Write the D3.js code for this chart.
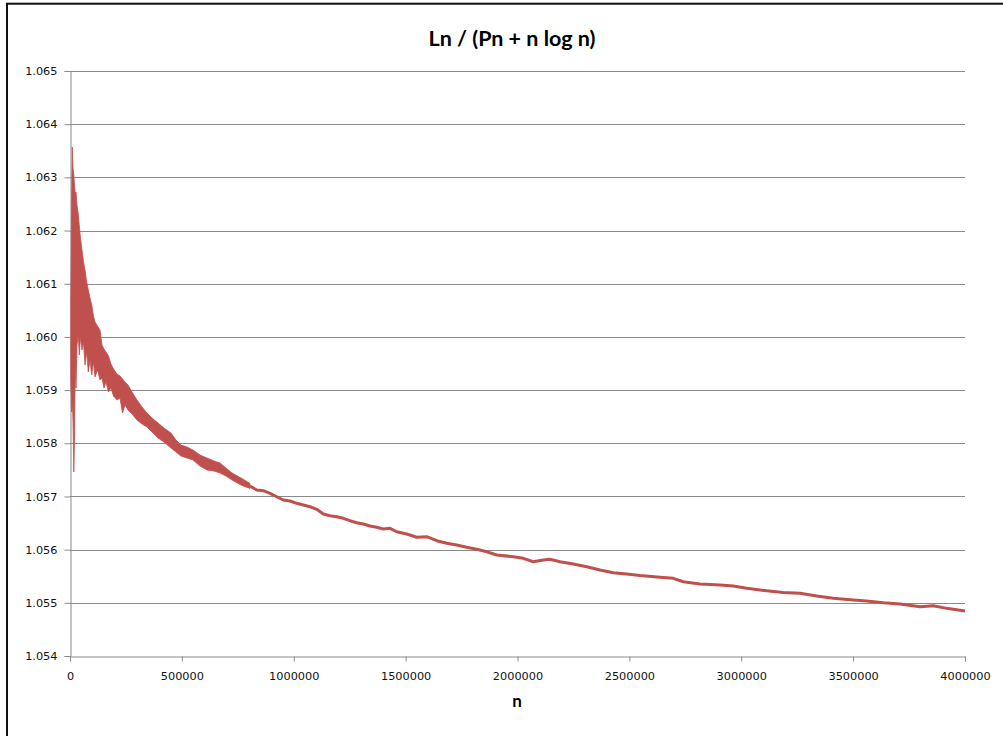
<!DOCTYPE html>
<html>
<head>
<meta charset="utf-8">
<script src="https://cdn.jsdelivr.net/npm/d3@7"></script>
<style>
  body { margin: 0; background: #fff; }
  svg { display: block; }
</style>
</head>
<body>
<div id="chart"></div>
<script>
// Noisy start of the curve: n with upper / lower envelope
const headN = [3600, 7200, 10300, 13400, 17000, 20100, 23700, 26800, 31300, 37100,
  41600, 46900, 53600, 60300, 67000, 74600, 81800, 89400, 97000, 105000,
  111700, 122900, 134100, 143000, 152000, 160900, 172100, 183200, 194400, 210100,
  223500, 234600, 245800, 259200, 277100, 299400, 321800, 344100, 366500, 393300,
  420100, 451400, 473700, 496100, 522900, 549700, 581000, 612300, 643600, 670400,
  697200, 724000, 764200, 804500];
const headHi = [1.060694, 1.062574, 1.063571, 1.063176, 1.063044, 1.062856, 1.062668, 1.062725, 1.06248, 1.062311,
  1.062085, 1.06186, 1.061634, 1.061408, 1.061258, 1.061032, 1.060882, 1.060731, 1.0606, 1.060393,
  1.06028, 1.060205, 1.06013, 1.059848, 1.059772, 1.059716, 1.059641, 1.05949, 1.059396, 1.059302,
  1.059265, 1.059208, 1.059152, 1.059096, 1.058964, 1.058813, 1.058682, 1.058569, 1.058475, 1.058381,
  1.058287, 1.058193, 1.058061, 1.057967, 1.05793, 1.057873, 1.057779, 1.057723, 1.057666, 1.057629,
  1.057535, 1.057441, 1.057347, 1.057245];
const headLo = [1.05919, 1.058588, 1.058813, 1.058437, 1.05746, 1.058061, 1.059566, 1.059039, 1.059848, 1.060036,
  1.05966, 1.059998, 1.059754, 1.059904, 1.059472, 1.059716, 1.05934, 1.059566, 1.059284, 1.059528,
  1.059246, 1.059378, 1.05919, 1.059227, 1.059039, 1.059152, 1.058964, 1.059039, 1.058889, 1.058813,
  1.058851, 1.058569, 1.058719, 1.058625, 1.05855, 1.058437, 1.058362, 1.058306, 1.058212, 1.058099,
  1.058024, 1.057911, 1.057836, 1.05776, 1.057723, 1.057685, 1.057572, 1.057497, 1.057478, 1.057441,
  1.057384, 1.057309, 1.057215, 1.057150];

// Smoother tail of the curve
const tailN = [804500, 834400, 863900, 893900, 923800, 953300, 983200, 1013200, 1042700, 1072600,
  1102600, 1132100, 1162000, 1191900, 1221500, 1251400, 1281300, 1310900, 1340800, 1370700,
  1400200, 1430200, 1460100, 1504800, 1549500, 1594200, 1638900, 1683600, 1728300, 1772900,
  1817600, 1862300, 1907000, 1981200, 2025900, 2070600, 2115300, 2145300, 2189900, 2249400,
  2309300, 2368700, 2428200, 2488000, 2547500, 2636900, 2696300, 2741000, 2815600, 2905000,
  2964500, 3024300, 3083800, 3186600, 3262600, 3337200, 3411400, 3500800, 3560700, 3634900,
  3709500, 3798900, 3858300, 3918200, 4000000];
const tailV = [1.057196, 1.057121, 1.057108, 1.057059, 1.056995, 1.056933, 1.056914, 1.056871, 1.056839, 1.056807,
  1.056758, 1.05667, 1.056638, 1.056619, 1.056589, 1.056544, 1.056506, 1.056482, 1.056444, 1.05642,
  1.056388, 1.056401, 1.056337, 1.056294, 1.056232, 1.056243, 1.056168, 1.056119, 1.056087, 1.056044,
  1.056006, 1.055961, 1.055899, 1.055867, 1.055837, 1.055773, 1.055805, 1.055818, 1.055773, 1.05573,
  1.055679, 1.055617, 1.055566, 1.055542, 1.055513, 1.055479, 1.055461, 1.055397, 1.055354, 1.055335,
  1.055316, 1.055273, 1.055241, 1.055194, 1.055179, 1.055128, 1.055085, 1.055053, 1.055034, 1.055002,
  1.054977, 1.054927, 1.054946, 1.054896, 1.054846];

const yTicks = [1.054, 1.055, 1.056, 1.057, 1.058, 1.059, 1.060, 1.061, 1.062, 1.063, 1.064, 1.065];
const xTicks = [0, 500000, 1000000, 1500000, 2000000, 2500000, 3000000, 3500000, 4000000];

const title = "Ln / (Pn + n log n)";
const xTitle = "n";

const width = 1003, height = 736;
const margin = { top: 71, right: 38, bottom: 80, left: 70 };
const lineColor = "#C0504D";
const gridColor = "#8a8a8a";

const svg = d3.select("#chart").append("svg")
  .attr("width", width)
  .attr("height", height);

// outer chart frame (runs off the right and bottom of the window)
svg.append("rect")
  .attr("x", 7).attr("y", 3.7)
  .attr("width", 1010).attr("height", 750)
  .attr("fill", "none")
  .attr("stroke", "#111")
  .attr("stroke-width", 2);

const x = d3.scaleLinear()
  .domain([0, 4000000])
  .range([margin.left, width - margin.right]);

const y = d3.scaleLinear()
  .domain([1.054, 1.065])
  .range([height - margin.bottom, margin.top]);

// horizontal gridlines
svg.append("g")
  .selectAll("line")
  .data(yTicks.slice(1))
  .join("line")
  .attr("x1", margin.left).attr("x2", width - margin.right)
  .attr("y1", d => Math.round(y(d)) + 0.5)
  .attr("y2", d => Math.round(y(d)) + 0.5)
  .attr("stroke", gridColor)
  .attr("stroke-width", 1);

// y axis
const yAxis = svg.append("g")
  .attr("transform", `translate(${margin.left + 0.5},0)`)
  .call(d3.axisLeft(y).tickValues(yTicks).tickFormat(d3.format(".3f")).tickSize(6).tickPadding(7));

// x axis
const xAxis = svg.append("g")
  .attr("transform", `translate(0,${Math.round(y(1.054)) + 0.5})`)
  .call(d3.axisBottom(x).tickValues(xTicks).tickFormat(d3.format("d")).tickSize(5).tickPadding(10));

[yAxis, xAxis].forEach(g => {
  g.select(".domain").attr("stroke", gridColor);
  g.selectAll(".tick line").attr("stroke", gridColor);
  g.selectAll(".tick text")
    .attr("fill", "#111")
    .style("font-family", "DejaVu Sans")
    .style("font-size", "11.3px");
});

// noisy head as a band
const headData = headN.map((n, i) => ({ n, hi: headHi[i], lo: headLo[i] }));
const area = d3.area()
  .x(d => x(d.n))
  .y0(d => y(d.lo))
  .y1(d => y(d.hi));

svg.append("path")
  .datum(headData)
  .attr("d", area)
  .attr("fill", lineColor)
  .attr("stroke", lineColor)
  .attr("stroke-width", 0.8)
  .attr("stroke-linejoin", "round");

// tail as a line
const tailData = tailN.map((n, i) => ({ n, v: tailV[i] }));
const line = d3.line()
  .x(d => x(d.n))
  .y(d => y(d.v));

svg.append("path")
  .datum(tailData)
  .attr("d", line)
  .attr("fill", "none")
  .attr("stroke", lineColor)
  .attr("stroke-width", 3)
  .attr("stroke-linejoin", "round");

// titles
svg.append("text")
  .attr("x", 512)
  .attr("y", 46)
  .attr("text-anchor", "middle")
  .style("font-family", "Lato, 'Open Sans', sans-serif")
  .style("font-weight", "bold")
  .style("font-size", "21.5px")
  .attr("fill", "#000")
  .text(title);

svg.append("text")
  .attr("x", 517)
  .attr("y", 707)
  .attr("text-anchor", "middle")
  .style("font-family", "Lato, 'Open Sans', sans-serif")
  .style("font-weight", "bold")
  .style("font-size", "17px")
  .attr("fill", "#000")
  .text(xTitle);
</script>
</body>
</html>
